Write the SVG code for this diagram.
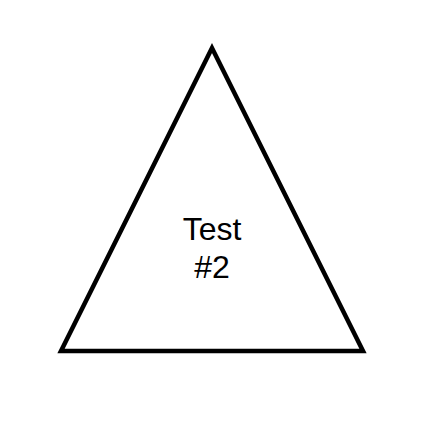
<svg xmlns="http://www.w3.org/2000/svg" width="447" height="426" viewBox="0 0 447 426">
<style>
.shape{fill:#fff;stroke:#000;stroke-width:4.5;stroke-linejoin:miter}
.lbl{font-family:"Liberation Sans",Arial,sans-serif;font-size:32px;fill:#000;text-anchor:middle}
</style>
<rect width="447" height="426" fill="#fff"/>
<g id="triangle">
<polygon class="shape" points="212,48 61,351 363,351"/>
<text class="lbl" x="212" y="240">Test</text>
<text class="lbl" x="212" y="278">#2</text>
</g>
<g id="connectors"/>
</svg>
